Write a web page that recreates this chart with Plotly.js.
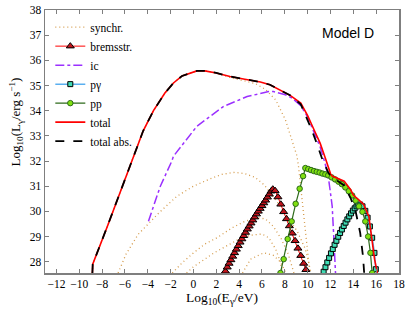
<!DOCTYPE html>
<html>
<head>
<meta charset="utf-8">
<script src="https://cdn.plot.ly/plotly-3.0.1.min.js"></script>
<style>html,body{margin:0;padding:0;background:#fff;}#chart{width:407px;height:310px;}</style>
</head>
<body>
<div id="chart"></div>
<script>
// ---- data (log10 E [eV], log10 L [erg/s]) ----
const synchE1 = [-8.85,-8.82,-7.5,-6.5,-5.5,-4.9,-4.4,-3.5,-2.5,-1.75,-1.0,0.3,1.0,2.0,2.5,3.5,4.5,5.4,6.3,7.2,8.05,8.64,9.07,9.2,9.5,9.8,10.1,10.2];
const synchL1 = [27.55,27.9,29.45,30.65,31.85,32.55,33.2,34.0,34.7,35.1,35.38,35.58,35.58,35.5,35.42,35.28,35.18,35.08,34.85,34.43,33.64,32.85,32.19,31.79,30.47,29.15,28.1,27.55];
const synchE2 = [-6.6,-5.9,-4.85,-4.1,-3.0,-1.45,0.0,1.5,2.5,3.6,4.5,5.4,6.2,7.3,7.9,9.1,9.8,10.3];
const synchL2 = [27.55,28.3,29.08,29.45,29.95,30.6,31.0,31.3,31.47,31.55,31.5,31.35,31.05,30.4,30.0,29.2,28.5,27.55];
const synchE3 = [-1.85,-1.0,0.0,1.0,2.06,3.4,4.5,5.5,6.3,7.0,7.7,8.3,8.8];
const synchL3 = [27.55,27.95,28.35,28.7,28.95,29.35,29.6,29.75,29.7,29.4,28.9,28.3,27.55];
const synchE4 = [-0.6,0.0,1.0,1.8,3.2,4.2,5.0,6.0,6.6,7.2,7.6,7.8];
const synchL4 = [27.55,27.8,28.1,28.35,28.7,28.95,29.05,29.1,28.95,28.5,28.0,27.55];
const synchE5 = [4.3,5.0,6.15,7.0,7.6,8.1];
const synchL5 = [27.55,28.1,28.35,28.25,28.0,27.55];

const bremE = [2.8,2.96,3.12,3.28,3.44,3.6,3.76,3.92,4.08,4.24,4.4,4.56,4.72,4.88,5.04,5.2,5.36,5.52,5.68,5.84,6.0,6.16,6.32,6.48,6.64,6.8,6.95,7.15,7.4,7.65,7.9,8.15,8.4,8.65,8.9,9.15,9.4,9.65,9.85];
const bremL = [27.62,27.78,27.93,28.07,28.21,28.35,28.49,28.63,28.77,28.9,29.03,29.16,29.29,29.41,29.53,29.65,29.77,29.89,30.0,30.11,30.22,30.33,30.44,30.56,30.68,30.8,30.88,30.82,30.57,30.28,29.98,29.7,29.42,29.13,28.83,28.53,28.24,27.93,27.68];

const icE = [-3.94,-2.9,-1.9,-1.75,0.3,2.64,4.7,6.6,7.0,8.05,8.64,9.4,10.0,10.5,11.1,11.5,11.8,12.0,12.15,12.3,12.44];
const icL = [29.61,31.0,31.99,32.19,33.38,34.17,34.56,34.76,34.76,34.63,34.5,34.2,33.75,33.2,32.55,31.95,31.4,30.73,30.2,28.88,27.55];

const pgE = [11.4,11.56,11.72,11.88,12.04,12.2,12.36,12.52,12.68,12.84,13.0,13.16,13.32,13.48,13.64,13.8,13.96,14.12,14.28,14.44,14.6,14.8,15.05,15.25,15.45,15.65,15.85,15.97];
const pgL = [27.6,27.78,27.97,28.15,28.33,28.5,28.67,28.83,28.99,29.14,29.28,29.42,29.55,29.68,29.8,29.92,30.03,30.12,30.2,30.25,30.27,30.2,30.02,29.75,29.4,28.95,28.35,27.7];

const ppE = [7.62,7.9,8.25,8.6,8.95,9.3,9.6,9.8,10.05,10.3,10.55,10.8,11.05,11.3,11.55,11.8,12.1,12.4,12.7,13.0,13.3,13.6,13.9,14.2,14.5,14.8,15.05,15.3,15.5,15.65];
const ppL = [27.55,28.1,28.9,29.6,30.3,30.9,31.4,31.72,31.68,31.64,31.6,31.57,31.54,31.5,31.47,31.43,31.35,31.27,31.18,31.08,30.95,30.8,30.63,30.43,30.2,29.98,29.6,29.0,28.35,27.55];

const totE = [-8.85,-8.82,-7.5,-6.5,-5.5,-4.9,-4.4,-3.5,-2.5,-1.75,-1.0,0.3,1.0,2.0,3.2,4.5,5.86,6.7,7.6,8.5,9.4,10.0,10.5,11.1,11.56,12.0,12.15,12.6,13.2,13.75,14.0,14.5,14.9,15.36,15.65,15.86,16.1];
const totL = [27.55,27.9,29.45,30.65,31.85,32.55,33.2,34.0,34.7,35.1,35.38,35.58,35.58,35.5,35.36,35.25,35.14,35.03,34.83,34.6,34.3,33.8,33.3,32.7,32.1,31.5,31.4,31.32,31.2,30.87,30.65,30.45,30.27,29.8,28.88,28.1,27.55];

const absE = [-8.85,-8.82,-7.5,-6.5,-5.5,-4.9,-4.4,-3.5,-2.5,-1.75,-1.0,0.3,1.0,2.0,3.2,4.5,5.86,6.7,7.6,8.5,9.4,9.8,10.3,10.8,11.3,11.85,12.1,12.6,13.2,13.75,14.2,14.6,14.85,14.95];
const absL = [27.55,27.9,29.45,30.65,31.85,32.55,33.2,34.0,34.7,35.1,35.38,35.58,35.58,35.5,35.36,35.25,35.14,35.03,34.83,34.6,34.25,33.85,33.3,32.7,32.05,31.5,31.38,31.22,31.03,30.54,30.0,29.15,28.2,27.55];

const legendNames = ['synchr.','bremsstr.','ic','p\u03b3','pp','total','total abs.'];
const xTicks = [-12,-10,-8,-6,-4,-2,0,2,4,6,8,10,12,14,16,18];
const yTicks = [28,29,30,31,32,33,34,35,36,37,38];

const synchColor = '#d49a4a';
const synchSets = [[synchE1,synchL1],[synchE2,synchL2],[synchE3,synchL3],[synchE4,synchL4],[synchE5,synchL5]];
const traces = [];
synchSets.forEach((s,i)=>{
  traces.push({x:s[0], y:s[1], mode:'lines', name:legendNames[0], legendgroup:'s', showlegend:i===0,
    line:{color:synchColor, width:1.3, dash:'1px,3px'}});
});
traces.push({x:bremE, y:bremL, mode:'lines+markers', name:legendNames[1],
  line:{color:'#ff0000', width:1},
  marker:{symbol:'triangle-up', size:7, color:'#c0141c', line:{color:'#000', width:1}}});
traces.push({x:icE, y:icL, mode:'lines', name:legendNames[2],
  line:{color:'#9b30ff', width:1.5, dash:'dashdot'}});
traces.push({x:pgE, y:pgL, mode:'lines+markers', name:legendNames[3],
  line:{color:'#5aaff0', width:1.5},
  marker:{symbol:'square', size:5, color:'#3fdcb4', line:{color:'#000', width:1}}});
traces.push({x:ppE, y:ppL, mode:'lines+markers', name:legendNames[4],
  line:{color:'#2d6a1a', width:1.2},
  marker:{symbol:'circle', size:5.5, color:'#7fe010', line:{color:'#2d6a1a', width:1}}});
traces.push({x:totE, y:totL, mode:'lines', name:legendNames[5],
  line:{color:'#ff0000', width:1.6}});
traces.push({x:absE, y:absL, mode:'lines', name:legendNames[6],
  line:{color:'#000000', width:1.8, dash:'dash'}});

const serif = 'Times New Roman, Liberation Serif, serif';
const axisCommon = {
  showline:true, mirror:'ticks', linecolor:'#7f7f7f', linewidth:1.5,
  ticks:'inside', ticklen:4, tickcolor:'#7f7f7f', tickwidth:1,
  showgrid:false, zeroline:false,
  tickfont:{family:serif, size:11.5, color:'#000'}
};
const layout = {
  width:407, height:310,
  margin:{l:45, r:8, t:10, b:37},
  paper_bgcolor:'#fff', plot_bgcolor:'#fff',
  font:{family:serif},
  showlegend:true,
  legend:{x:0.015, y:0.99, xanchor:'left', yanchor:'top', bgcolor:'rgba(0,0,0,0)',
    font:{family:serif, size:11.5, color:'#000'}, itemwidth:30, tracegroupgap:0},
  xaxis:Object.assign({}, axisCommon, {range:[-13,18], tickvals:xTicks,
    title:{text:'Log<sub>10</sub>(E<sub>\u03b3</sub>/eV)', font:{family:serif, size:13.5, color:'#000'}, standoff:0}}),
  yaxis:Object.assign({}, axisCommon, {range:[27.55,38], tickvals:yTicks}),
  annotations:[
    {xref:'paper', yref:'paper', x:0.855, y:0.912, xanchor:'center', yanchor:'middle', text:'Model D', showarrow:false,
      font:{family:'Liberation Sans, Arial, sans-serif', size:14, color:'#000'}},
    {xref:'paper', yref:'paper', x:-0.083, y:0.575, xanchor:'center', yanchor:'middle', textangle:-90, showarrow:false,
      text:'Log<sub>10</sub>(L<sub>\u03b3</sub>/erg s<sup>\u22121</sup>)', font:{family:serif, size:13, color:'#000'}}
  ]
};
Plotly.newPlot('chart', traces, layout, {displayModeBar:false, staticPlot:true});
</script>
</body>
</html>
